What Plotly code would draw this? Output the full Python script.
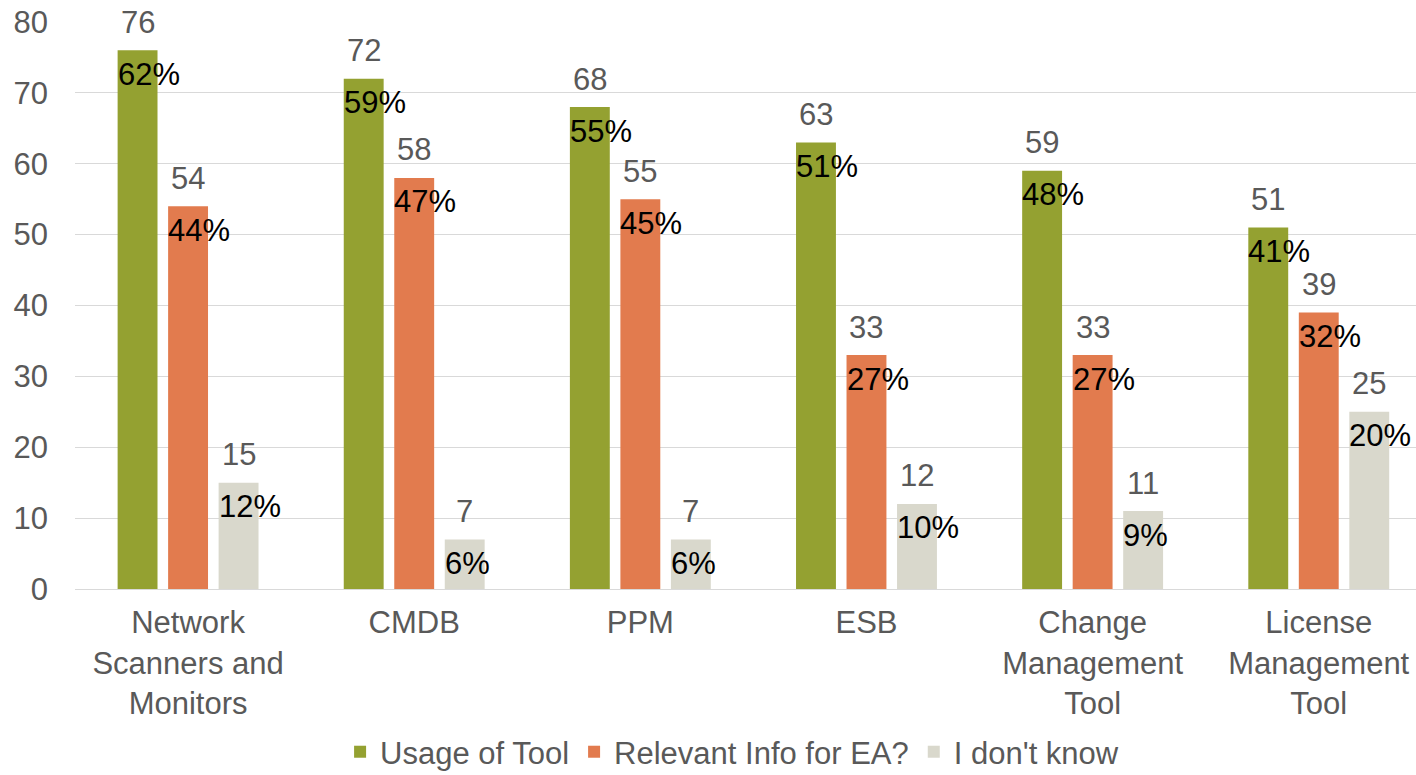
import plotly.graph_objects as go

categories = ["Network<br>Scanners and<br>Monitors", "CMDB", "PPM", "ESB",
              "Change<br>Management<br>Tool", "License<br>Management<br>Tool"]
series_names = ["Usage of Tool", "Relevant Info for EA?", "I don't know"]
usage = [76, 72, 68, 63, 59, 51]
relevant = [54, 58, 55, 33, 33, 39]
dont_know = [15, 7, 7, 12, 11, 25]
usage_pct = [62, 59, 55, 51, 48, 41]
relevant_pct = [44, 47, 45, 27, 27, 32]
dont_know_pct = [12, 6, 6, 10, 9, 20]
y_ticks = [0, 10, 20, 30, 40, 50, 60, 70, 80]

colors = ["#94A131", "#E27B4E", "#D9D8CC"]
text_grey = "#595959"
FONT = "Liberation Sans, Arial, sans-serif"
FS = 31

BARGAP = 0.33
BARGROUPGAP = 0.21

values = [usage, relevant, dont_know]
pcts = [usage_pct, relevant_pct, dont_know_pct]
xs = list(range(len(categories)))

fig = go.Figure()
for name, vals, col in zip(series_names, values, colors):
    fig.add_trace(go.Bar(x=xs, y=vals, name=name, marker=dict(color=col, line=dict(width=0))))

n = len(series_names)
slot = (1 - BARGAP) / n
barw = slot * (1 - BARGROUPGAP)
annotations = []
for k in range(n):
    off = (k - (n - 1) / 2) * slot
    for i, x in enumerate(xs):
        v = values[k][i]
        annotations.append(dict(x=x + off, y=v, text=str(v), showarrow=False,
                                xanchor="center", yanchor="middle", yshift=28,
                                font=dict(family=FONT, size=FS, color=text_grey)))
        annotations.append(dict(x=x + off - barw / 2, y=v, text=f"{pcts[k][i]}%", showarrow=False,
                                xanchor="left", yanchor="middle", yshift=-24, xshift=-2,
                                font=dict(family=FONT, size=FS, color="#000000")))

fig.update_layout(
    width=1416, height=775,
    margin=dict(l=75, r=0, t=22, b=186, autoexpand=False),
    paper_bgcolor="white", plot_bgcolor="white",
    barmode="group", bargap=BARGAP, bargroupgap=BARGROUPGAP,
    font=dict(family=FONT, size=FS, color=text_grey),
    annotations=annotations,
    showlegend=True,
    legend=dict(orientation="h", x=0.49, xanchor="center", y=-0.24, yanchor="top",
                font=dict(family=FONT, size=FS, color=text_grey), traceorder="normal"),
)
fig.update_xaxes(tickvals=xs, ticktext=categories, range=[-0.5, 5.43],
                 showgrid=False, showline=True, linecolor="#D9D9D9", linewidth=1,
                 ticks="", tickfont=dict(family=FONT, size=FS, color=text_grey),
                 ticklabelstandoff=6, zeroline=False, automargin=False)
fig.update_yaxes(range=[0, 80], tickvals=y_ticks, showgrid=True, gridcolor="#D9D9D9",
                 gridwidth=1, zeroline=False, showline=False, ticks="", automargin=False,
                 tickfont=dict(family=FONT, size=FS, color=text_grey), ticklabelstandoff=26)

fig.write_html("out.html")
